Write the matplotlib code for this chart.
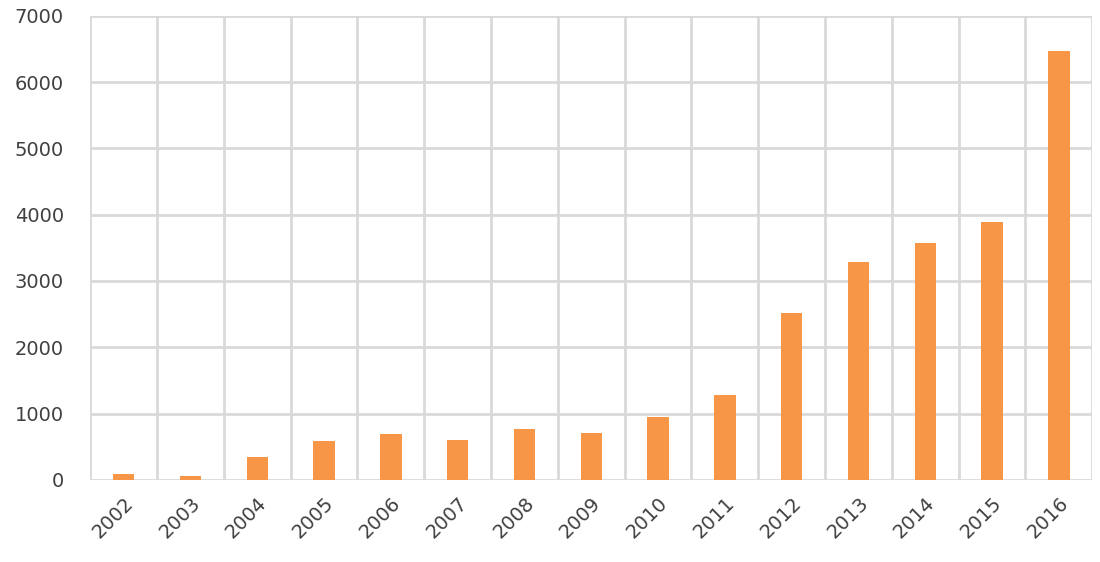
import numpy as np
import matplotlib.pyplot as plt

# data
years = ['2002', '2003', '2004', '2005', '2006', '2007', '2008', '2009',
         '2010', '2011', '2012', '2013', '2014', '2015', '2016']
counts = [90, 60, 340, 590, 700, 600, 775, 710,
          955, 1275, 2520, 3280, 3570, 3890, 6470]
y_ticks = [0, 1000, 2000, 3000, 4000, 5000, 6000, 7000]

bar_color = '#F79646'
grid_color = '#D9D9D9'
text_color = '#404040'

fig = plt.figure(figsize=(11, 5.62), dpi=100)
ax = fig.add_axes([0.082, 0.146, 0.911, 0.826])

x = np.arange(len(years))
ax.bar(x, counts, width=0.32, color=bar_color, zorder=3)

ax.set_xlim(-0.5, len(years) - 0.5)
ax.set_ylim(0, 7000)
ax.set_yticks(y_ticks)
ax.set_yticklabels([str(v) for v in y_ticks])
ax.set_xticks(x)
ax.set_xticklabels(years, rotation=45, ha='right', rotation_mode='anchor')

# vertical grid lines sit between categories
ax.set_xticks(np.arange(-0.5, len(years), 1.0), minor=True)
ax.grid(axis='x', which='minor', color=grid_color, linewidth=2, zorder=0)
ax.grid(axis='y', which='major', color=grid_color, linewidth=2, zorder=0)

for s in ax.spines.values():
    s.set_visible(False)
ax.tick_params(axis='both', which='both', length=0, labelsize=14, colors=text_color)
ax.tick_params(axis='y', pad=19)
ax.tick_params(axis='x', pad=10)

fig.savefig('out.png', dpi=100)
